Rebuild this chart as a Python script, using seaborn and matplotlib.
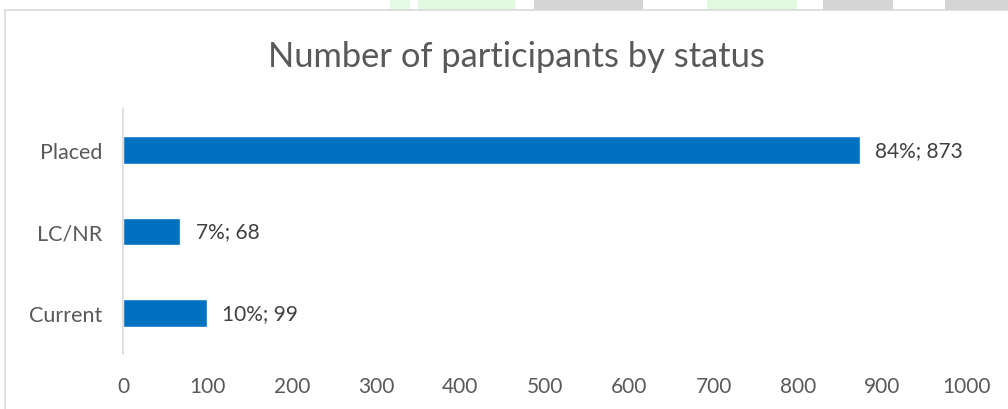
import matplotlib
matplotlib.use("Agg")
import matplotlib.pyplot as plt
import matplotlib.patches as mpatches
import pandas as pd
import seaborn as sns

# data
statuses = ["Placed", "LC/NR", "Current"]
counts = [873, 68, 99]
shares = ["84%", "7%", "10%"]
x_ticks = [0, 100, 200, 300, 400, 500, 600, 700, 800, 900, 1000]

df = pd.DataFrame({"status": statuses, "count": counts, "share": shares})

sns.set_style("white")
plt.rcParams["font.family"] = ["Lato", "DejaVu Sans"]

fig = plt.figure(figsize=(10.08, 4.10), dpi=100)
ax = fig.add_axes([0.122, 0.134, 0.837, 0.598])
ax.set_zorder(5)

# faint watermark pieces peeking above the chart frame
for x0, x1, col in [(390, 410, "#e6fbe6"), (418, 515, "#e2fae2"), (534, 643, "#d4d4d4"),
                    (707, 797, "#e2fae2"), (823, 893, "#d4d4d4"), (945, 1008, "#d4d4d4")]:
    fig.patches.append(mpatches.Rectangle((x0 / 1008, 1 - 11 / 410), (x1 - x0) / 1008, 11 / 410,
                                          transform=fig.transFigure, facecolor=col,
                                          edgecolor="none", zorder=-2))
# chart frame
fig.patches.append(mpatches.Rectangle((5 / 1008, -0.05), 1.1, 1.05 - 11 / 410,
                                      transform=fig.transFigure, facecolor="white",
                                      edgecolor="#d9d9d9", linewidth=1.2, zorder=-1))

sns.barplot(data=df, y="status", x="count", orient="h", color="#0070c0",
            width=0.34, saturation=1, ax=ax)

for i, row in df.iterrows():
    ax.text(row["count"] + 18, i, f"{row['share']}; {row['count']}",
            va="center", ha="left", fontsize=15, color="#404040")

ax.set_xlim(0, 1000)
ax.set_ylim(2.5, -0.5)
ax.set_xticks(x_ticks)
ax.set_xticklabels([str(t) for t in x_ticks])
ax.tick_params(axis="x", length=0, labelsize=15, colors="#595959", pad=16)
ax.tick_params(axis="y", length=0, labelsize=15.5, colors="#595959", pad=15)
ax.set_xlabel("")
ax.set_ylabel("")
for side in ["top", "right", "bottom"]:
    ax.spines[side].set_visible(False)
ax.spines["left"].set_color("#d9d9d9")
ax.spines["left"].set_linewidth(1.2)
ax.set_facecolor("none")

fig.text(0.512, 0.862, "Number of participants by status", ha="center", va="center",
         fontsize=24.8, color="#595959")

fig.savefig("out.png", dpi=100)
plt.close(fig)
